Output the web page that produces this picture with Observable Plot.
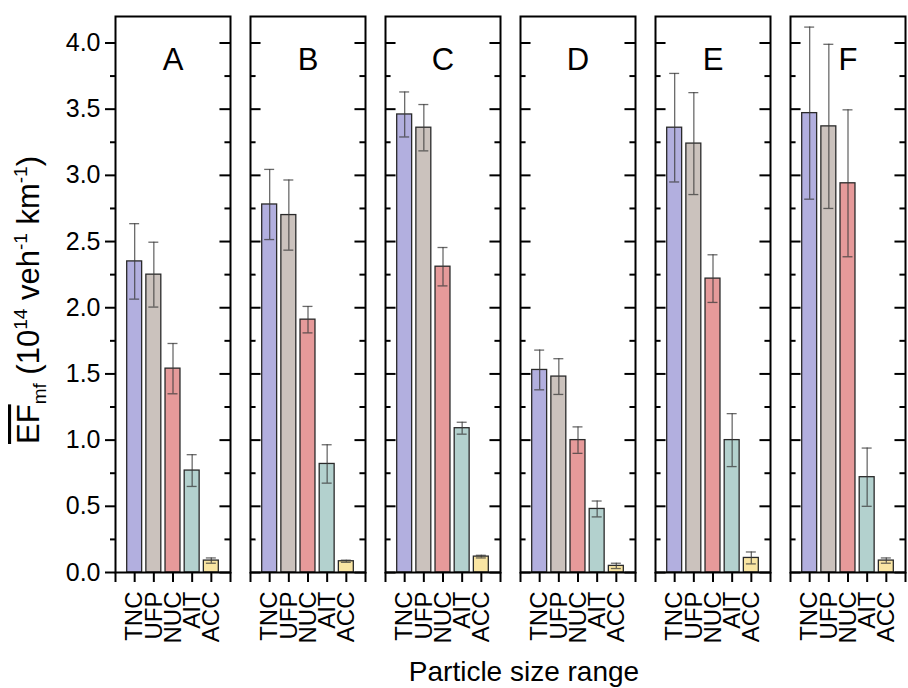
<!DOCTYPE html>
<html>
<head>
<meta charset="utf-8">
<script src="https://cdn.jsdelivr.net/npm/d3@7"></script>
<script src="https://cdn.jsdelivr.net/npm/@observablehq/plot@0.6"></script>
<style>
  html, body { margin: 0; padding: 0; background: #fff; }
  #chart { width: 908px; height: 688px; }
</style>
</head>
<body>
<div id="chart"></div>
<script>
// ---- data ----
const panels = ["A", "B", "C", "D", "E", "F"];
const categories = ["TNC", "UFP", "NUC", "AIT", "ACC"];
const colors = ["#b2afdf", "#cbc2bd", "#e69a9a", "#b3d1ce", "#f9e5a3"];
// mean EF per panel (rows) and category (columns)
const means = [
  [2.35, 2.25, 1.54, 0.77, 0.09],
  [2.78, 2.70, 1.91, 0.82, 0.085],
  [3.46, 3.36, 2.31, 1.09, 0.12],
  [1.53, 1.48, 1.00, 0.48, 0.05],
  [3.36, 3.24, 2.22, 1.00, 0.11],
  [3.47, 3.37, 2.94, 0.72, 0.09]
];
// symmetric error (±) per panel and category
const errors = [
  [0.285, 0.245, 0.19, 0.12, 0.02],
  [0.265, 0.265, 0.10, 0.145, 0.008],
  [0.17, 0.175, 0.145, 0.045, 0.01],
  [0.15, 0.135, 0.10, 0.06, 0.02],
  [0.41, 0.385, 0.18, 0.20, 0.045],
  [0.65, 0.62, 0.555, 0.22, 0.02]
];
const majorTicks = [0, 0.5, 1.0, 1.5, 2.0, 2.5, 3.0, 3.5, 4.0];
const minorTicks = [0.25, 0.75, 1.25, 1.75, 2.25, 2.75, 3.25, 3.75];
const yDomain = [0, 4.2];
const yLabel = {main: "EF", sub: "mf", rest: [" (10", "14", " veh", "-1", " km", "-1", ")"]};
const xTitle = "Particle size range";

// ---- derived tables ----
const rows = [];
panels.forEach((p, i) => categories.forEach((c, j) => {
  rows.push({panel: p, cat: c, xi: j + 1, v: means[i][j], lo: means[i][j] - errors[i][j], hi: means[i][j] + errors[i][j], color: colors[j]});
}));
const leftInner = [], rightInner = [], leftInnerMinor = [], rightInnerMinor = [];
panels.forEach((p, i) => {
  majorTicks.forEach(t => { rightInner.push({panel: p, t}); if (i > 0) leftInner.push({panel: p, t}); });
  minorTicks.forEach(t => { rightInnerMinor.push({panel: p, t}); if (i > 0) leftInnerMinor.push({panel: p, t}); });
});

const BW = 0.39, CAP = 0.26, TMAJ = 0.55, TMIN = 0.29;
const font = "Arial, 'Liberation Sans', Helvetica, sans-serif";

const chart = Plot.plot({
  width: 908,
  height: 688,
  marginTop: 16,
  marginBottom: 116,
  marginLeft: 113,
  marginRight: 1,
  style: {fontFamily: font, color: "black", background: "white", overflow: "visible"},
  fx: {domain: panels, paddingInner: 0.147, paddingOuter: 0, axis: null, label: null},
  x: {domain: [0, 6], label: null},
  y: {domain: yDomain, label: null},
  marks: [
    Plot.rectY(rows, {fx: "panel", x1: d => d.xi - BW, x2: d => d.xi + BW, y1: 0, y2: "v", fill: "color", stroke: "#2a2a2a", strokeWidth: 1.3}),
    Plot.ruleX(rows, {fx: "panel", x: "xi", y1: "lo", y2: "hi", stroke: "#3a3a3a", strokeOpacity: 0.75, strokeWidth: 1.3}),
    Plot.ruleY(rows, {fx: "panel", y: "hi", x1: d => d.xi - CAP, x2: d => d.xi + CAP, stroke: "#3a3a3a", strokeOpacity: 0.75, strokeWidth: 1.3}),
    Plot.ruleY(rows, {fx: "panel", y: "lo", x1: d => d.xi - CAP, x2: d => d.xi + CAP, stroke: "#3a3a3a", strokeOpacity: 0.75, strokeWidth: 1.3}),
    // inward ticks
    Plot.ruleY(leftInner, {fx: "panel", y: "t", x1: 0, x2: TMAJ, stroke: "black", strokeWidth: 2}),
    Plot.ruleY(leftInnerMinor, {fx: "panel", y: "t", x1: 0, x2: TMIN, stroke: "black", strokeWidth: 2}),
    Plot.ruleY(rightInner, {fx: "panel", y: "t", x1: 6 - TMAJ, x2: 6, stroke: "black", strokeWidth: 2}),
    Plot.ruleY(rightInnerMinor, {fx: "panel", y: "t", x1: 6 - TMIN, x2: 6, stroke: "black", strokeWidth: 2}),
    Plot.frame({stroke: "black", strokeWidth: 2}),
    Plot.text(panels, {fx: d => d, text: d => d, frameAnchor: "top", dy: 31, fontSize: 31, fill: "black"}),
    Plot.axisY(majorTicks, {tickSize: 10, tickPadding: 5, tickFormat: d3.format(".1f"), fontSize: 25, strokeWidth: 2, label: null}),
    Plot.axisY(minorTicks, {tickSize: 5, tickFormat: () => "", strokeWidth: 2, label: null}),
    Plot.axisX(d3.range(0, 7), {tickSize: 10, tickPadding: 9, tickRotate: -90, tickFormat: d => categories[d - 1] ?? "", fontSize: 24, strokeWidth: 2, label: null})
  ]
});

const svg = d3.select(chart);
// y label
const yl = svg.append("text")
  .attr("transform", "translate(39,300) rotate(-90)")
  .attr("text-anchor", "middle")
  .attr("font-family", font)
  .attr("font-size", 31)
  .attr("fill", "black");
yl.append("tspan").style("text-decoration", "overline").text(yLabel.main);
yl.append("tspan").attr("font-size", 19).attr("dy", 7).text(yLabel.sub);
yl.append("tspan").attr("dy", -7).text(yLabel.rest[0]);
yl.append("tspan").attr("font-size", 19).attr("dy", -12).text(yLabel.rest[1]);
yl.append("tspan").attr("dy", 12).text(yLabel.rest[2]);
yl.append("tspan").attr("font-size", 19).attr("dy", -12).text(yLabel.rest[3]);
yl.append("tspan").attr("dy", 12).text(yLabel.rest[4]);
yl.append("tspan").attr("font-size", 19).attr("dy", -12).text(yLabel.rest[5]);
yl.append("tspan").attr("dy", 12).text(yLabel.rest[6]);
// x title
svg.append("text")
  .attr("x", 524).attr("y", 681)
  .attr("text-anchor", "middle")
  .attr("font-family", font)
  .attr("font-size", 28)
  .attr("fill", "black")
  .text(xTitle);

document.getElementById("chart").appendChild(chart);
</script>
</body>
</html>
